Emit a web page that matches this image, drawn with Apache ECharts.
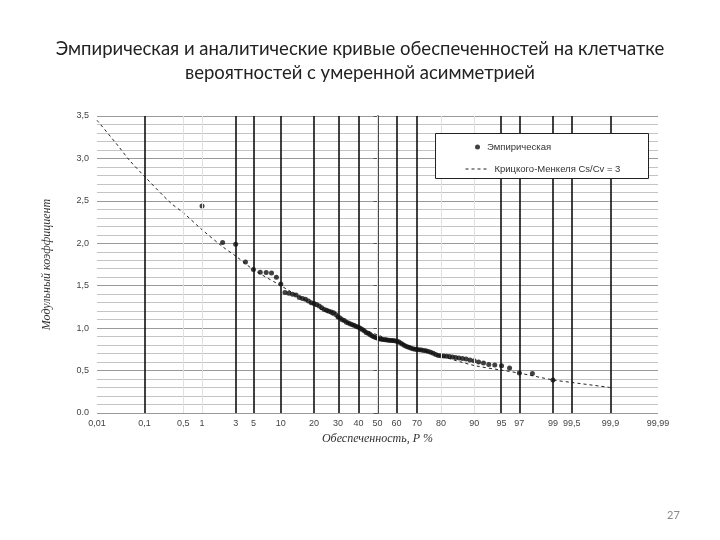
<!DOCTYPE html>
<html>
<head>
<meta charset="utf-8">
<script src="https://cdn.jsdelivr.net/npm/echarts@6/dist/echarts.min.js"></script>
<style>html,body{margin:0;padding:0;background:#fff;}#c{width:720px;height:540px;}</style>
</head>
<body>
<div id="c"></div>
<script>
// Probability ticks (percent) and labels
var tickP = [0.01, 0.1, 0.5, 1, 3, 5, 10, 20, 30, 40, 50, 60, 70, 80, 90, 95, 97, 99, 99.5, 99.9, 99.99];
var tickLabels = ['0,01','0,1','0,5','1','3','5','10','20','30','40','50','60','70','80','90','95','97','99','99,5','99,9','99,99'];
var boldLinesP = [0.1, 3, 5, 10, 20, 30, 40, 60, 70, 95, 97, 99, 99.5, 99.9];
var faintLinesP = [0.5, 1, 50, 80, 90];

// Empirical series: plotting positions (%) and modular coefficients
var empP = [];
for (var m = 1; m <= 99; m++) empP.push(m);
var empK = [2.44,2.01,1.99,1.78,1.69,1.66,1.655,1.65,1.60,1.52,
  1.42,1.41,1.40,1.39,1.36,1.35,1.34,1.32,1.30,1.29,
  1.28,1.26,1.24,1.22,1.21,1.20,1.19,1.18,1.16,1.13,
  1.12,1.10,1.09,1.07,1.06,1.05,1.04,1.03,1.02,1.01,
  1.00,0.985,0.97,0.95,0.94,0.925,0.91,0.90,0.89,0.88,
  0.875,0.87,0.865,0.862,0.86,0.858,0.855,0.853,0.85,0.845,
  0.84,0.825,0.81,0.795,0.785,0.775,0.767,0.758,0.752,0.748,
  0.744,0.741,0.737,0.733,0.725,0.715,0.705,0.69,0.678,0.674,
  0.672,0.668,0.665,0.66,0.655,0.649,0.643,0.635,0.626,0.615,
  0.60,0.588,0.572,0.566,0.558,0.53,0.47,0.465,0.39];

// Kritsky-Menkel curve, Cs/Cv = 3
var kmP = [0.01,0.03,0.05,0.1,0.3,0.5,1,2,3,5,10,20,30,40,50,60,70,80,90,95,97,99,99.5,99.9];
var kmK = [3.45,3.14,2.98,2.79,2.48,2.36,2.16,1.96,1.85,1.69,1.50,1.27,1.12,1.01,0.92,0.84,0.76,0.67,0.56,0.505,0.47,0.39,0.36,0.30];

// inverse standard normal CDF (Acklam)
function normInv(p){
  var a=[-3.969683028665376e+01,2.209460984245205e+02,-2.759285104469687e+02,1.383577518672690e+02,-3.066479806614716e+01,2.506628277459239e+00];
  var b=[-5.447609879822406e+01,1.615858368580409e+02,-1.556989798598866e+02,6.680131188771972e+01,-1.328068155288572e+01];
  var c=[-7.784894002430293e-03,-3.223964580411365e-01,-2.400758277161838e+00,-2.549732539343734e+00,4.374664141464968e+00,2.938163982698783e+00];
  var d=[7.784695709041462e-03,3.224671290700398e-01,2.445134137142996e+00,3.754408661907416e+00];
  var pl=0.02425, q, r;
  if (p < pl){ q=Math.sqrt(-2*Math.log(p)); return (((((c[0]*q+c[1])*q+c[2])*q+c[3])*q+c[4])*q+c[5])/((((d[0]*q+d[1])*q+d[2])*q+d[3])*q+1); }
  if (p <= 1-pl){ q=p-0.5; r=q*q; return (((((a[0]*r+a[1])*r+a[2])*r+a[3])*r+a[4])*r+a[5])*q/(((((b[0]*r+b[1])*r+b[2])*r+b[3])*r+b[4])*r+1); }
  q=Math.sqrt(-2*Math.log(1-p)); return -(((((c[0]*q+c[1])*q+c[2])*q+c[3])*q+c[4])*q+c[5])/((((d[0]*q+d[1])*q+d[2])*q+d[3])*q+1);
}
function zOf(P){ return normInv(P/100); }

var zMin = zOf(0.01), zMax = zOf(99.99);
var tickZ = tickP.map(zOf);
var labelMap = {};
tickZ.forEach(function(z,i){ labelMap[z.toFixed(6)] = tickLabels[i]; });

var empData = empP.map(function(p,i){ return [zOf(p), empK[i]]; });
var kmData = kmP.map(function(p,i){ return [zOf(p), kmK[i]]; });

var chart = echarts.init(document.getElementById('c'), null, {renderer:'canvas'});
var serifName = {fontFamily:'Liberation Serif', fontStyle:'italic', fontSize:12, color:'#333'};
chart.setOption({
  animation:false,
  backgroundColor:'#fff',
  title:[{
    text:'Эмпирическая и аналитические кривые обеспеченностей на клетчатке\nвероятностей с умеренной асимметрией',
    left:'center', top:32,
    textStyle:{fontFamily:'Lato', fontSize:18.5, fontWeight:'normal', color:'#222', lineHeight:24}
  },{
    text:'27', left:662, top:505,
    textStyle:{fontFamily:'Lato', fontSize:11, fontWeight:'normal', color:'#8a8a8a'}
  }],
  grid:{left:97, right:62, top:116, bottom:127},
  legend:[{
    data:['Эмпирическая'], orient:'vertical', left:470, top:137, z:20,
    itemWidth:5, itemHeight:5, itemGap:0, icon:'circle',
    textStyle:{fontFamily:'Liberation Sans Narrow, Liberation Sans', fontSize:9.5, color:'#333', padding:[0,0,0,2]}
  },{
    data:['Крицкого-Менкеля Cs/Cv = 3'], orient:'vertical', left:460, top:159, z:20,
    itemWidth:24, itemHeight:10, itemGap:0,
    itemStyle:{opacity:0},
    lineStyle:{color:'#222', width:1, type:[3,3], opacity:1},
    textStyle:{fontFamily:'Liberation Sans Narrow, Liberation Sans', fontSize:9.5, color:'#333', padding:[0,0,0,0]}
  }],
  graphic:[{
    type:'rect', left:435, top:133, z:10,
    shape:{width:213, height:45},
    style:{fill:'#fff', stroke:'#222', lineWidth:1}
  }],
  xAxis:{
    type:'value', min:zMin, max:zMax,
    name:'Обеспеченность, P %', nameLocation:'middle', nameGap:15,
    nameTextStyle:serifName,
    axisLine:{show:false},
    axisTick:{show:false},
    splitLine:{show:false},
    axisLabel:{
      customValues:tickZ,
      formatter:function(v){ return labelMap[v.toFixed(6)] || ''; },
      fontFamily:'Liberation Sans Narrow, Liberation Sans', fontSize:9, color:'#444', margin:6,
      showMinLabel:true, showMaxLabel:true, hideOverlap:false
    }
  },
  yAxis:{
    type:'value', min:0, max:3.5, interval:0.5,
    name:'Модульный коэффициент', nameLocation:'middle', nameGap:44,
    nameTextStyle:serifName,
    axisLine:{show:true, lineStyle:{color:'#111', width:1.5}},
    axisTick:{show:true, length:4, lineStyle:{color:'#555'}},
    axisLabel:{
      formatter:function(v){ return v===0 ? '0.0' : v.toFixed(1).replace('.',','); },
      fontFamily:'Liberation Sans Narrow, Liberation Sans', fontSize:9, color:'#444', margin:8
    },
    splitLine:{show:true, lineStyle:{color:'#9a9a9a', width:1}},
    minorTick:{show:false, splitNumber:5},
    minorSplitLine:{show:true, lineStyle:{color:'#c4c4c4', width:1}}
  },
  series:[{
    name:'Крицкого-Менкеля Cs/Cv = 3', type:'line', data:kmData,
    smooth:0.3, showSymbol:false, symbol:'none',
    itemStyle:{color:'#222'},
    lineStyle:{color:'#222', width:1, type:[3,3]}, z:3,
    markLine:{
      silent:true, symbol:'none', label:{show:false},
      lineStyle:{color:'#e0e0e0', width:1, type:'solid'},
      data:faintLinesP.map(function(p){ return {xAxis:zOf(p)}; })
    }
  },{
    name:'Эмпирическая', type:'scatter', data:empData,
    symbol:'circle', symbolSize:5,
    itemStyle:{color:'#111'}, z:4,
    markLine:{
      silent:true, symbol:'none', label:{show:false},
      lineStyle:{color:'#111', width:1.6, type:'solid'},
      data:boldLinesP.map(function(p){ return {xAxis:zOf(p)}; })
    }
  }]
});
</script>
</body>
</html>
